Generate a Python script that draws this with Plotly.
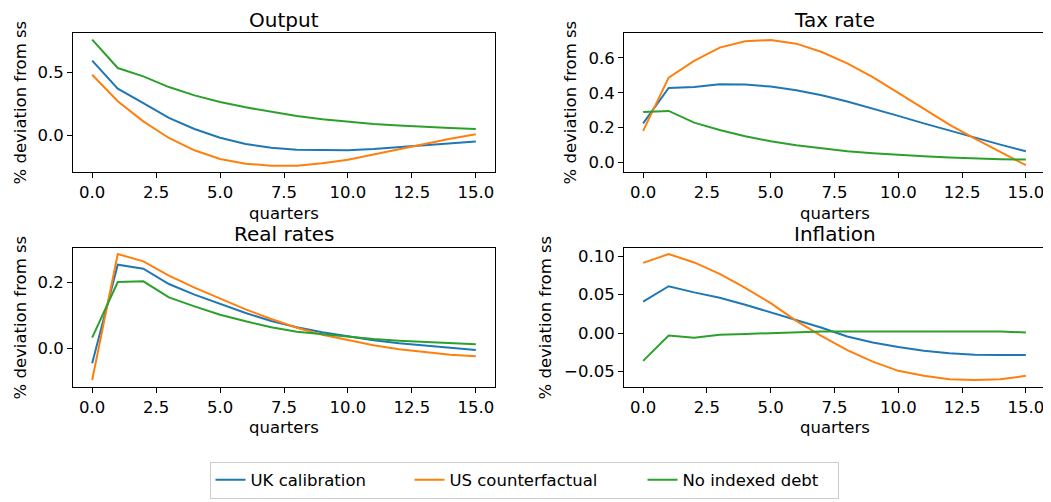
import plotly.graph_objects as go

quarters = list(range(16))
series_names = ["UK calibration", "US counterfactual", "No indexed debt"]
colors = ["#1f77b4", "#ff7f0e", "#2ca02c"]

output_uk = [0.596, 0.373, 0.258, 0.141, 0.053, -0.016, -0.066, -0.095, -0.111, -0.116, -0.116, -0.106, -0.092, -0.076, -0.061, -0.045]
output_us = [0.484, 0.273, 0.114, -0.018, -0.116, -0.185, -0.222, -0.238, -0.238, -0.219, -0.190, -0.148, -0.103, -0.061, -0.024, 0.011]
output_no = [0.762, 0.537, 0.471, 0.386, 0.320, 0.267, 0.225, 0.188, 0.156, 0.130, 0.111, 0.093, 0.080, 0.069, 0.061, 0.053]

tax_uk = [0.225, 0.428, 0.434, 0.449, 0.447, 0.436, 0.415, 0.386, 0.350, 0.310, 0.268, 0.225, 0.183, 0.143, 0.103, 0.065]
tax_us = [0.182, 0.487, 0.583, 0.659, 0.696, 0.703, 0.682, 0.634, 0.569, 0.490, 0.400, 0.308, 0.218, 0.138, 0.062, -0.015]
tax_no = [0.290, 0.296, 0.229, 0.187, 0.151, 0.122, 0.099, 0.080, 0.065, 0.054, 0.044, 0.036, 0.029, 0.023, 0.019, 0.017]

real_uk = [-0.044, 0.252, 0.240, 0.194, 0.162, 0.134, 0.107, 0.083, 0.064, 0.049, 0.036, 0.025, 0.016, 0.009, 0.003, -0.004]
real_us = [-0.094, 0.284, 0.262, 0.219, 0.183, 0.150, 0.118, 0.089, 0.063, 0.042, 0.025, 0.010, -0.002, -0.011, -0.018, -0.023]
real_no = [0.033, 0.200, 0.202, 0.154, 0.127, 0.102, 0.082, 0.064, 0.051, 0.043, 0.036, 0.029, 0.024, 0.020, 0.016, 0.013]

infl_uk = [0.041, 0.061, 0.053, 0.046, 0.037, 0.027, 0.0166, 0.007, -0.0044, -0.0122, -0.018, -0.023, -0.026, -0.028, -0.0285, -0.0285]
infl_us = [0.0914, 0.1028, 0.0919, 0.077, 0.059, 0.039, 0.016, -0.004, -0.022, -0.037, -0.049, -0.0555, -0.060, -0.061, -0.060, -0.0555]
infl_no = [-0.036, -0.003, -0.006, -0.002, -0.001, 0.000, 0.001, 0.002, 0.002, 0.002, 0.002, 0.002, 0.002, 0.002, 0.002, 0.001]

panel_titles = ["Output", "Tax rate", "Real rates", "Inflation"]
panels = [
    [output_uk, output_us, output_no],
    [tax_uk, tax_us, tax_no],
    [real_uk, real_us, real_no],
    [infl_uk, infl_us, infl_no],
]

W, H = 1051, 502
OFF = 8  # default page body margin


def px(x):
    return (x - OFF) / W


def py(y):
    return 1 - (y - OFF) / H


# pixel boxes in the page (left, right, top, bottom)
boxes = [(73, 495, 33, 172), (624, 1045, 33, 172), (73, 495, 248, 387), (624, 1045, 248, 387)]
ylab_px = [20, 570, 20, 545]
title_cy = [20, 20, 234, 234]
xlab_cy = [213, 213, 427, 427]
yranges = [[-0.288, 0.815], [-0.054, 0.743], [-0.115, 0.302], [-0.070, 0.1107]]
ytickvals = [[0.0, 0.5], [0.0, 0.2, 0.4, 0.6], [0.0, 0.2], [-0.05, 0.0, 0.05, 0.10]]
ytickfmt = [".1f", ".1f", ".1f", ".2f"]
legend_widths = [154, 188, 150]

FONT = "DejaVu Sans"
FS = 16.5
fig = go.Figure()
layout = dict(
    width=W, height=H, margin=dict(l=0, r=0, t=0, b=0),
    paper_bgcolor="white", plot_bgcolor="white",
    font=dict(family=FONT, size=FS, color="black"),
    showlegend=True,
    legend=dict(orientation="h", x=px(524), xanchor="center", y=py(480), yanchor="middle",
                bordercolor="#cccccc", borderwidth=1, font=dict(size=FS),
                itemwidth=30, tracegroupgap=0, entrywidthmode="pixels"),
)
annotations = []
for i, (data, title) in enumerate(zip(panels, panel_titles)):
    l, r, t, b = boxes[i]
    xa = "xaxis" if i == 0 else f"xaxis{i+1}"
    ya = "yaxis" if i == 0 else f"yaxis{i+1}"
    xref = "x" if i == 0 else f"x{i+1}"
    yref = "y" if i == 0 else f"y{i+1}"
    for j in range(3):
        fig.add_trace(go.Scatter(x=quarters, y=data[j], mode="lines", name=series_names[j],
                                 line=dict(color=colors[j], width=2),
                                 legendwidth=legend_widths[j],
                                 xaxis=xref, yaxis=yref, showlegend=(i == 0)))
    layout[xa] = dict(domain=[px(l), px(r)], anchor=yref, range=[-0.75, 15.75],
                      tickvals=[0, 2.5, 5, 7.5, 10, 12.5, 15], tickformat=".1f",
                      showline=True, linecolor="black", linewidth=1, mirror=True,
                      ticks="outside", ticklen=5, tickcolor="black", showgrid=False, zeroline=False,
                      tickfont=dict(size=FS))
    layout[ya] = dict(domain=[py(b), py(t)], anchor=xref, range=yranges[i],
                      tickvals=ytickvals[i], tickformat=ytickfmt[i],
                      showline=True, linecolor="black", linewidth=1, mirror=True,
                      ticks="outside", ticklen=5, tickcolor="black", showgrid=False, zeroline=False,
                      tickfont=dict(size=FS))
    annotations.append(dict(text=title, x=px((l + r) / 2), y=py(title_cy[i]), xref="paper", yref="paper",
                            xanchor="center", yanchor="middle", showarrow=False, borderpad=0,
                            font=dict(size=20)))
    annotations.append(dict(text="quarters", x=px((l + r) / 2), y=py(xlab_cy[i]), xref="paper", yref="paper",
                            xanchor="center", yanchor="middle", showarrow=False, borderpad=0,
                            font=dict(size=FS)))
    annotations.append(dict(text="% deviation from ss", x=px(ylab_px[i]), y=py((t + b) / 2), xref="paper", yref="paper",
                            xanchor="center", yanchor="middle", textangle=-90, showarrow=False, borderpad=0,
                            font=dict(size=FS)))
layout["annotations"] = annotations
fig.update_layout(**layout)
fig.write_html("out.html")
